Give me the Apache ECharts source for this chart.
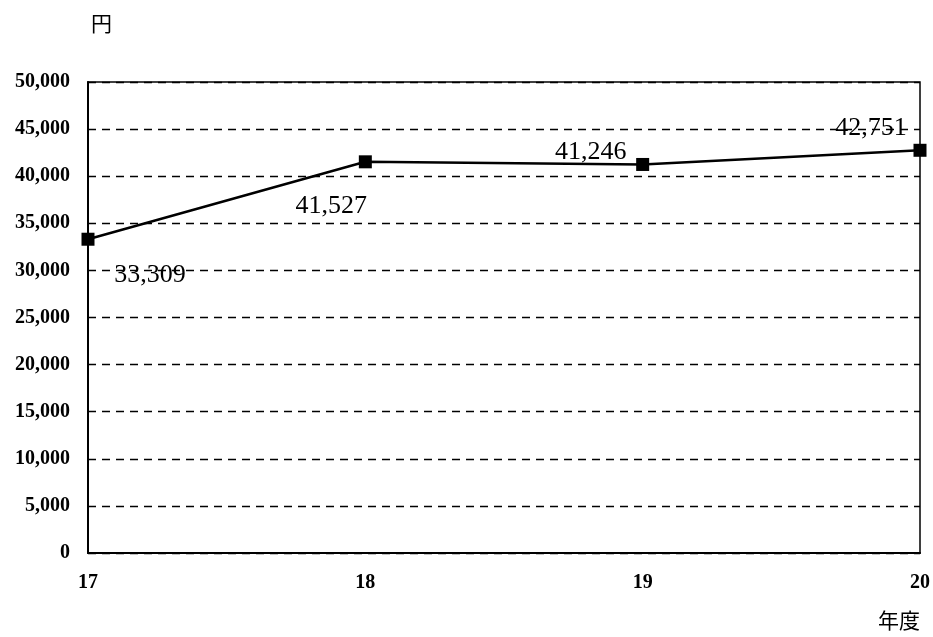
<!DOCTYPE html>
<html><head><meta charset="utf-8">
<script src="https://cdn.jsdelivr.net/npm/echarts@6/dist/echarts.min.js"></script>
<style>html,body{margin:0;padding:0;background:#fff}#c{width:933px;height:637px}</style>
</head><body><div id="c"></div>
<script>
const categories = ['17', '18', '19', '20'];
const values = [33309, 41527, 41246, 42751];
const labelOffsets = [[62, 36], [-34, 44], [-52, -12], [-49, -22]];

const serif = '"Liberation Serif", "DejaVu Serif", serif';
const cjk = '"Noto Sans CJK JP", serif';
const chart = echarts.init(document.getElementById('c'));
chart.setOption({
  animation: false,
  backgroundColor: '#fff',
  grid: { left: 88, right: 13, top: 82, bottom: 84, show: true, borderColor: '#000', borderWidth: 1.5, backgroundColor: 'transparent' },
  xAxis: {
    type: 'category', data: categories, boundaryGap: false,
    axisLine: { lineStyle: { color: '#000', width: 2 } },
    axisTick: { show: false },
    axisLabel: { color: '#000', fontFamily: serif, fontSize: 20, fontWeight: 'bold', margin: 20 },
    name: '年度', nameLocation: 'end', nameGap: 0,
    nameTextStyle: { color: '#000', fontFamily: cjk, fontSize: 21, fontWeight: 'normal', align: 'right', verticalAlign: 'top', padding: [57, 0, 0, 0] }
  },
  yAxis: {
    type: 'value', min: 0, max: 50000, interval: 5000,
    axisLine: { show: true, lineStyle: { color: '#000', width: 2 } },
    axisTick: { show: false },
    axisLabel: { color: '#000', fontFamily: serif, fontSize: 20, fontWeight: 'bold', margin: 18,
      formatter: v => v.toLocaleString('en-US') },
    splitLine: { lineStyle: { color: '#000', type: [8, 6], width: 1.3 } },
    name: '円', nameLocation: 'end', nameGap: 0,
    nameTextStyle: { color: '#000', fontFamily: cjk, fontSize: 21, align: 'left', padding: [0, 0, 48, 3] }
  },
  series: [{
    type: 'line', data: values.map((v, i) => ({
      value: v,
      label: { offset: labelOffsets[i] }
    })),
    symbol: 'rect', symbolSize: 13,
    lineStyle: { color: '#000', width: 2.5 },
    itemStyle: { color: '#000' },
    label: { show: true, position: 'inside', color: '#000', fontFamily: serif, fontSize: 26,
      formatter: p => p.value.toLocaleString('en-US') }
  }]
});
</script></body></html>
